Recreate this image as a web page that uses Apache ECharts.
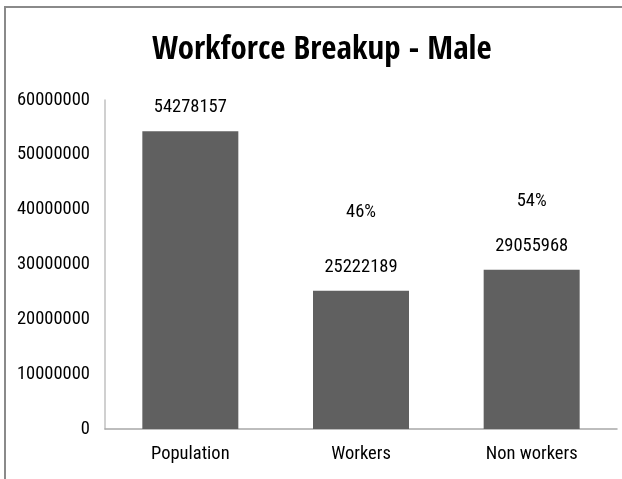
<!DOCTYPE html>
<html>
<head>
<meta charset="utf-8">
<script src="https://cdn.jsdelivr.net/npm/echarts@6/dist/echarts.min.js"></script>
<style>
html,body{margin:0;padding:0;background:#fff;}
#frame{position:absolute;left:4px;top:6px;width:630px;height:480px;border-left:2px solid #8a8a8a;border-top:2px solid #8a8a8a;}
#chart{position:absolute;left:0;top:0;width:622px;height:479px;}
</style>
</head>
<body>
<div id="frame"></div>
<div id="chart"></div>
<script>
const categories = ['Population', 'Workers', 'Non workers'];
const values = [54278157, 25222189, 29055968];
const percents = ['', '46%', '54%'];
const percentGaps = [0, 36, 26];
const yTicks = [0, 10000000, 20000000, 30000000, 40000000, 50000000, 60000000];

const FONT = '"Roboto Condensed", "Open Sans", sans-serif';
const TITLE_FONT = '"Open Sans Condensed", "Open Sans", sans-serif';
const chart = echarts.init(document.getElementById('chart'));
const data = values.map((v, i) => ({
  value: v,
  label: {
    formatter: percents[i] ? '{p|' + percents[i] + '}\n{v|{c}}' : '{v|{c}}',
    rich: {
      p: { fontFamily: FONT, fontSize: 18.5, color: '#000', padding: [0, 0, percentGaps[i], 0] },
      v: { fontFamily: FONT, fontSize: 18.5, color: '#000' }
    }
  }
}));
chart.setOption({
  animation: false,
  title: {
    text: 'Workforce Breakup - Male',
    left: 147,
    top: 29,
    textStyle: { fontFamily: TITLE_FONT, fontWeight: 'bold', fontSize: 33, color: '#000' }
  },
  grid: { left: 105, right: 5, top: 100, bottom: 50 },
  xAxis: {
    type: 'category',
    data: categories,
    axisLine: { lineStyle: { color: '#a8a8a8', width: 1.5 } },
    axisTick: { show: false },
    axisLabel: { fontFamily: FONT, fontSize: 18.5, color: '#000', margin: 16 }
  },
  yAxis: {
    type: 'value',
    min: yTicks[0],
    max: yTicks[yTicks.length - 1],
    interval: yTicks[1] - yTicks[0],
    axisLine: { show: true, lineStyle: { color: '#c0c0c0', width: 1.5 } },
    axisTick: { show: false },
    splitLine: { show: false },
    axisLabel: { fontFamily: FONT, fontSize: 18.5, color: '#000', margin: 15, formatter: v => String(v) }
  },
  series: [{
    type: 'bar',
    data: data,
    barWidth: 96,
    itemStyle: { color: '#606060' },
    label: { show: true, position: 'top', distance: 14 }
  }]
});
</script>
</body>
</html>
